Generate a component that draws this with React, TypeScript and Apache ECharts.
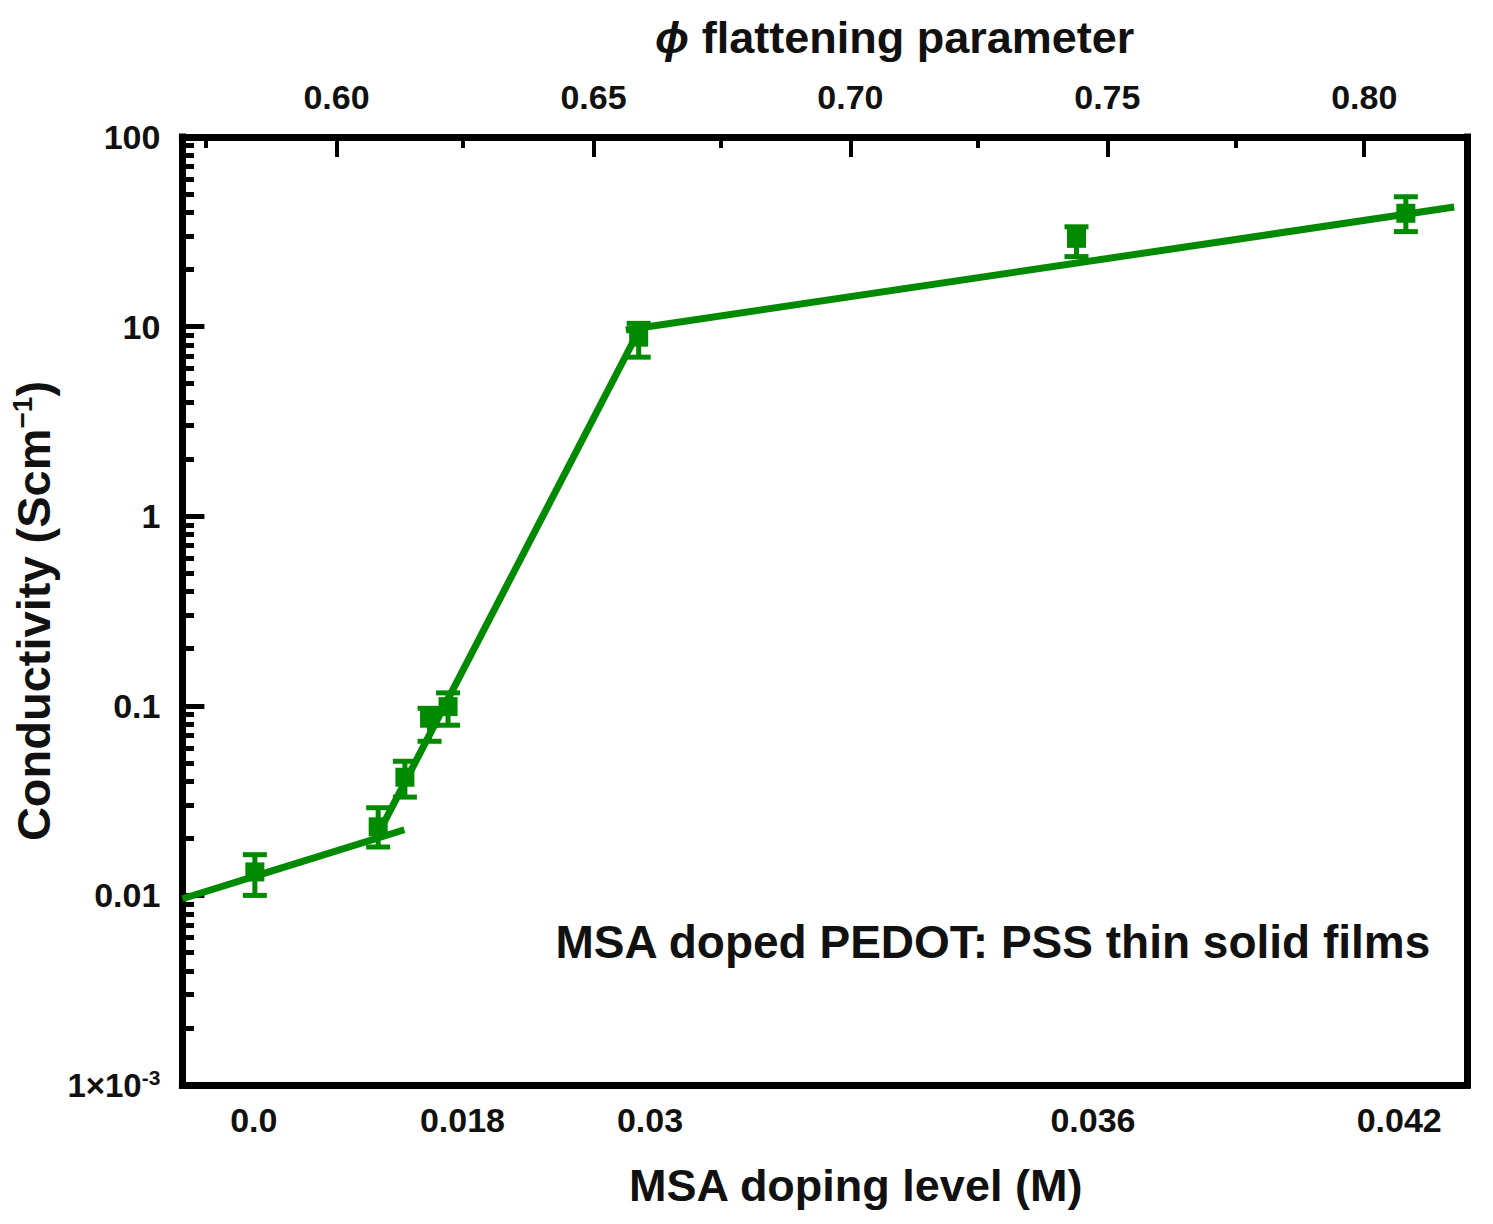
import React, { useEffect, useRef } from 'react';
import * as echarts from 'echarts';

// flattening parameter (top axis) of each measured film
const phi = [0.5841, 0.6081, 0.6133, 0.6181, 0.6217, 0.6588, 0.744, 0.8081];
// conductivity (S/cm) and error bar ends
const conductivity = [0.0133, 0.023, 0.042, 0.086, 0.099, 8.8, 29.2, 39.6];
const errLow = [0.01, 0.018, 0.033, 0.065, 0.079, 6.9, 23.4, 31.7];
const errHigh = [0.0164, 0.029, 0.051, 0.097, 0.117, 10.4, 33.6, 48.4];

// fitted line segments [phi, conductivity]
const fitLow = [
  [0.57, 0.0096],
  [0.6132, 0.0222],
];
const fitMid = [
  [0.6093, 0.0244],
  [0.6592, 9.95],
];
const fitHigh = [
  [0.6563, 9.6],
  [0.8175, 42.7],
];

// bottom axis: MSA doping level labels and where they sit on the phi scale
const dopingLabels = ['0.0', '0.018', '0.03', '0.036', '0.042'];
const dopingPos = [0.5839, 0.6245, 0.661, 0.7472, 0.8068];

// top axis ticks
const phiMajor = [0.6, 0.65, 0.7, 0.75, 0.8];
const phiMinor = [0.575, 0.625, 0.675, 0.725, 0.775];

// log minor ticks 2..9 per decade
const logMinor: number[] = [];
for (let e = -3; e < 2; e++) {
  for (let k = 2; k <= 9; k++) logMinor.push(k * Math.pow(10, e));
}

const GREEN = '#008a00';
const FONT = '"Liberation Sans", Arial, sans-serif';

const App: React.FC = () => {
  const chartRef = useRef<HTMLDivElement>(null);

  useEffect(() => {
    const chart = echarts.init(chartRef.current!, null, { renderer: 'svg' });

    const frame = { lineStyle: { color: '#000', width: 7, cap: 'square' } };
    const grid = { left: 180, right: 26, top: 137, bottom: 139 };

    const option = {
      animation: false,
      backgroundColor: '#fff',
      grid: [grid, { ...grid }],
      xAxis: [
        {
          type: 'value',
          gridIndex: 0,
          position: 'bottom',
          min: 0.57,
          max: 0.82,
          axisLine: frame,
          axisTick: { show: false },
          splitLine: { show: false },
          axisLabel: {
            customValues: dopingPos,
            margin: 18,
            color: '#111',
            fontFamily: FONT,
            fontWeight: 'bold',
            fontSize: 34,
            formatter: (v: number) => {
              let best = 0;
              dopingPos.forEach((p, i) => {
                if (Math.abs(p - v) < Math.abs(dopingPos[best] - v)) best = i;
              });
              return dopingLabels[best];
            },
          },
          name: 'MSA doping level (M)',
          nameLocation: 'middle',
          nameGap: 78,
          nameTextStyle: {
            color: '#111',
            fontFamily: FONT,
            fontWeight: 'bold',
            fontSize: 45,
            padding: [0, 0, 0, 62],
          },
        },
        {
          type: 'value',
          gridIndex: 0,
          position: 'top',
          min: 0.57,
          max: 0.82,
          axisLine: frame,
          axisTick: {
            customValues: phiMajor,
            inside: true,
            length: 20,
            lineStyle: { color: '#000', width: 4 },
          },
          splitLine: { show: false },
          axisLabel: {
            customValues: phiMajor,
            margin: 23,
            color: '#111',
            fontFamily: FONT,
            fontWeight: 'bold',
            fontSize: 34,
            formatter: (v: number) => v.toFixed(2),
          },
          name: '{phi|ϕ} flattening parameter',
          nameLocation: 'middle',
          nameGap: 77,
          nameTextStyle: {
            color: '#111',
            fontFamily: FONT,
            fontWeight: 'bold',
            fontSize: 45,
            padding: [0, 0, 0, 140],
            rich: {
              phi: { fontFamily: FONT, fontStyle: 'italic', fontWeight: 'bold', fontSize: 45, color: '#111' },
            },
          },
        },
        {
          type: 'value',
          gridIndex: 1,
          position: 'top',
          min: 0.57,
          max: 0.82,
          axisLine: { show: false },
          axisLabel: { show: false },
          splitLine: { show: false },
          axisTick: {
            customValues: phiMinor,
            inside: true,
            length: 11,
            lineStyle: { color: '#000', width: 4 },
          },
        },
      ],
      yAxis: [
        {
          type: 'log',
          gridIndex: 0,
          position: 'left',
          min: 0.001,
          max: 100,
          axisLine: frame,
          axisTick: { inside: true, length: 22, lineStyle: { color: '#000', width: 5 } },
          splitLine: { show: false },
          minorTick: { show: false },
          axisLabel: {
            margin: 22,
            color: '#111',
            fontFamily: FONT,
            fontWeight: 'bold',
            fontSize: 34,
            formatter: (v: number) => {
              const e = Math.round(Math.log10(v));
              if (e === -3) return '{b|1×10}{sup|-3}';
              return ['0.01', '0.1', '1', '10', '100'][e + 2];
            },
            rich: {
              b: { fontFamily: FONT, fontWeight: 'bold', fontSize: 33, color: '#111' },
              sup: { fontFamily: FONT, fontWeight: 'bold', fontSize: 21, color: '#111', padding: [0, 0, 16, 0] },
            },
          },
          name: 'Conductivity (Scm{sup|−1})',
          nameLocation: 'middle',
          nameRotate: 90,
          nameGap: 106,
          nameTextStyle: {
            color: '#111',
            fontFamily: FONT,
            fontWeight: 'bold',
            fontSize: 47,
            rich: {
              sup: { fontFamily: FONT, fontWeight: 'bold', fontSize: 28, color: '#111', padding: [0, 0, 22, 0] },
            },
          },
        },
        {
          type: 'log',
          gridIndex: 0,
          position: 'right',
          min: 0.001,
          max: 100,
          axisLine: frame,
          axisTick: { show: false },
          axisLabel: { show: false },
          splitLine: { show: false },
        },
        {
          type: 'log',
          gridIndex: 1,
          position: 'left',
          min: 0.001,
          max: 100,
          axisLine: { show: false },
          axisLabel: { show: false },
          splitLine: { show: false },
          axisTick: {
            customValues: logMinor,
            inside: true,
            length: 14,
            lineStyle: { color: '#000', width: 5 },
          },
        },
      ],
      graphic: [
        {
          type: 'text',
          right: 61,
          top: 919,
          style: {
            text: 'MSA doped PEDOT: PSS thin solid films',
            font: `bold 46px ${FONT}`,
            fill: '#111',
          },
        },
      ],
      series: [
        ...[fitLow, fitMid, fitHigh].map((seg) => ({
          type: 'line',
          xAxisIndex: 0,
          yAxisIndex: 0,
          data: seg,
          symbol: 'none',
          lineStyle: { color: GREEN, width: 7 },
          z: 2,
        })),
        {
          type: 'custom',
          xAxisIndex: 0,
          yAxisIndex: 0,
          data: phi.map((p, i) => [p, errLow[i], errHigh[i]]),
          encode: { x: 0, y: [1, 2] },
          renderItem: (_params: any, api: any) => {
            const x = api.value(0);
            const lo = api.coord([x, api.value(1)]);
            const hi = api.coord([x, api.value(2)]);
            const w = 12;
            const style = { stroke: GREEN, lineWidth: 5 };
            return {
              type: 'group',
              children: [
                { type: 'line', shape: { x1: lo[0], y1: lo[1], x2: hi[0], y2: hi[1] }, style },
                { type: 'line', shape: { x1: lo[0] - w, y1: lo[1], x2: lo[0] + w, y2: lo[1] }, style },
                { type: 'line', shape: { x1: hi[0] - w, y1: hi[1], x2: hi[0] + w, y2: hi[1] }, style },
              ],
            };
          },
          z: 3,
        },
        {
          type: 'scatter',
          xAxisIndex: 0,
          yAxisIndex: 0,
          data: phi.map((p, i) => [p, conductivity[i]]),
          symbol: 'rect',
          symbolSize: 19,
          itemStyle: { color: GREEN, opacity: 1 },
          z: 4,
        },
      ],
    };

    chart.setOption(option as any);

    return () => {
      chart.dispose();
    };
  }, []);

  return (
    <div
      ref={chartRef}
      style={{ position: 'absolute', left: 0, top: 0, width: 1493, height: 1224 }}
    />
  );
};

export default App;
